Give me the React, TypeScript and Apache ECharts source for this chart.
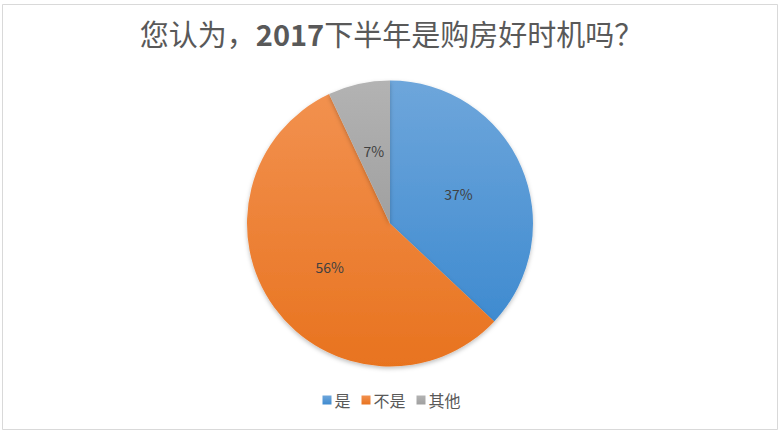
import { useEffect, useRef } from 'react';
import * as echarts from 'echarts';

const categories = ['是', '不是', '其他'];
const values = [37, 56, 7];
const colorStops = [
  ['#6ea6db', '#3f8bd0'],
  ['#f2914f', '#e8731f'],
  ['#b3b3b3', '#a0a0a0'],
];

const font = '"Noto Sans CJK SC", "Noto Sans", sans-serif';

export default function App() {
  const chartRef = useRef<HTMLDivElement>(null);

  useEffect(() => {
    if (!chartRef.current) return;
    const chart = echarts.init(chartRef.current, undefined, { renderer: 'svg' });

    const option: echarts.EChartsOption = {
      animation: false,
      backgroundColor: '#ffffff',
      title: {
        text: '您认为，{b|2017}下半年是购房好时机吗？',
        left: 'center',
        top: 13,
        textStyle: {
          fontFamily: font,
          fontSize: 29,
          fontWeight: 'normal',
          color: '#595959',
          rich: {
            b: { fontFamily: font, fontSize: 29, fontWeight: 'bold', color: '#595959' },
          },
        },
      },
      legend: {
        bottom: 21,
        left: 'center',
        itemWidth: 9,
        itemHeight: 9,
        itemGap: 11,
        icon: 'rect',
        textStyle: { fontFamily: font, fontSize: 16, color: '#595959', padding: [0, 0, 0, -2] },
        data: categories,
      },
      graphic: [
        {
          type: 'rect',
          shape: { x: 2.5, y: 4.5, width: 775, height: 425 },
          style: { fill: 'none', stroke: '#d9d9d9', lineWidth: 1 },
          silent: true,
        },
      ],
      series: [
        {
          type: 'pie',
          center: [390, 223.5],
          radius: 143,
          startAngle: 90,
          clockwise: true,
          avoidLabelOverlap: false,
          label: {
            position: 'inner',
            formatter: '{d}%',
            fontFamily: font,
            fontSize: 14,
            color: '#404040',
          },
          labelLine: { show: false },
          itemStyle: {
            shadowBlur: 4,
            shadowOffsetY: 2,
            shadowColor: 'rgba(0,0,0,0.25)',
          },
          emphasis: { disabled: true },
          data: categories.map((name, i) => ({
            name,
            value: values[i],
            itemStyle: {
              color: new echarts.graphic.LinearGradient(0, 0, 0, 1, [
                { offset: 0, color: colorStops[i][0] },
                { offset: 1, color: colorStops[i][1] },
              ]),
            },
          })),
        },
      ],
    };

    chart.setOption(option);
    return () => chart.dispose();
  }, []);

  return (
    <div style={{ position: 'absolute', left: 0, top: 0 }}>
      <div ref={chartRef} style={{ width: 783, height: 434 }} />
    </div>
  );
}
